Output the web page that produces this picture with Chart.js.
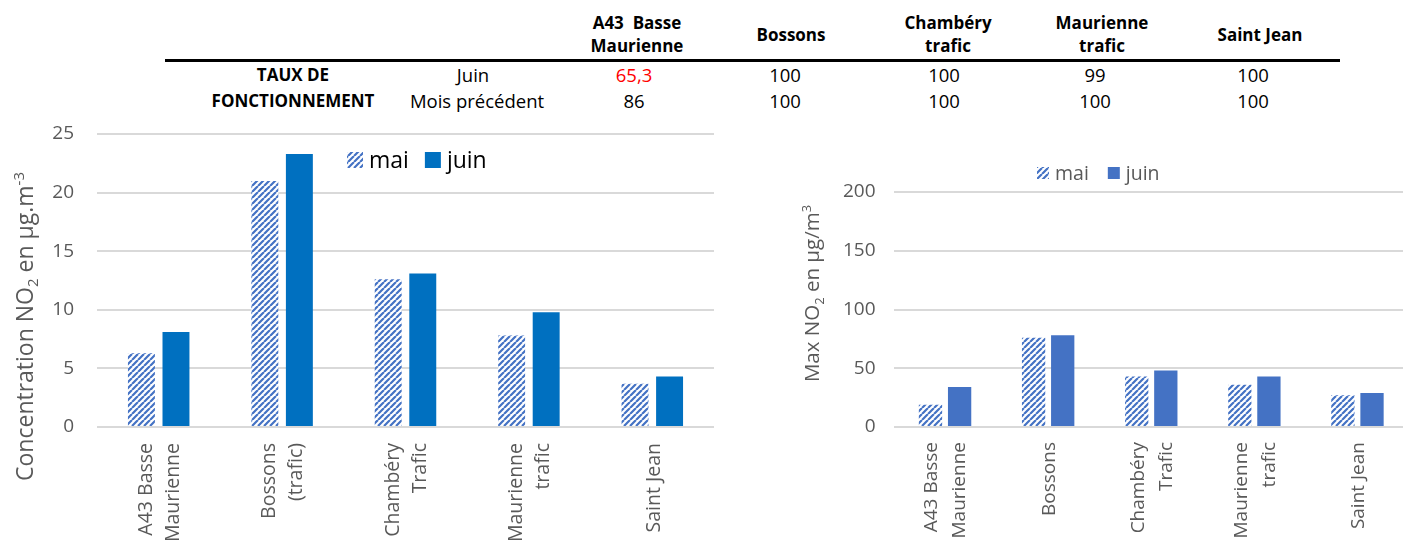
<!DOCTYPE html>
<html>
<head>
<meta charset="utf-8">
<script src="https://cdn.jsdelivr.net/npm/chart.js@4/dist/chart.umd.min.js"></script>
<style>
  html, body { margin: 0; padding: 0; background: #fff; }
  #page { position: relative; width: 1403px; height: 545px; overflow: hidden; font-family: "Open Sans", sans-serif; }
  .c { position: absolute; transform: translate(-50%, -50%); white-space: nowrap; text-align: center; color: #000; }
  .hd { font-weight: bold; font-size: 17px; line-height: 23px; }
  .rw { font-size: 18.5px; }
  .lb { font-weight: bold; font-size: 17px; }
  #rule { position: absolute; left: 165px; top: 59px; width: 1175px; height: 3px; background: #000; }
  canvas { position: absolute; }
</style>
</head>
<body>
<div id="page">
  <div id="rule"></div>
  <canvas id="moyChart" width="740" height="425" style="left:0px;top:120px;"></canvas>
  <canvas id="maxChart" width="660" height="425" style="left:760px;top:120px;"></canvas>
</div>
<script>
// Operating-rate table
const stationHeads = [['A43&nbsp; Basse', 'Maurienne'], ['Bossons'], ['Chambéry', 'trafic'], ['Maurienne', 'trafic'], ['Saint Jean']];
const rowTitles = ['TAUX DE', 'FONCTIONNEMENT'];
const rowPeriods = ['Juin', 'Mois précédent'];
const tauxJuin = ['65,3', '100', '100', '99', '100'];
const tauxPrecedent = ['86', '100', '100', '100', '100'];
const tauxSousSeuil = [true, false, false, false, false];

// Monthly mean NO2 (µg/m3)
const moyLabels = [['A43 Basse', 'Maurienne'], ['Bossons', '(trafic)'], ['Chambéry', 'Trafic'], ['Maurienne', 'trafic'], 'Saint Jean'];
const moyMai = [6.3, 21.0, 12.6, 7.8, 3.7];
const moyJuin = [8.1, 23.3, 13.1, 9.8, 4.3];

// Maximum NO2 (µg/m3)
const maxLabels = [['A43 Basse', 'Maurienne'], 'Bossons', ['Chambéry', 'Trafic'], ['Maurienne', 'trafic'], 'Saint Jean'];
const maxMai = [19, 76, 43, 36, 27];
const maxJuin = [34, 78, 48, 43, 29];

const seriesNames = ['mai', 'juin'];

// ---- table ----
const page = document.getElementById('page');
const headX = [637, 791, 948, 1102, 1260];
const valX = [634, 785, 944, 1095, 1253];
function addText(cls, html, x, y, color) {
  const d = document.createElement('div');
  d.className = 'c ' + cls;
  d.innerHTML = html;
  d.style.left = x + 'px';
  d.style.top = y + 'px';
  if (color) d.style.color = color;
  page.appendChild(d);
}
stationHeads.forEach((lines, i) => addText('hd', lines.join('<br>'), headX[i], 33.5));
addText('lb', rowTitles[0], 293, 74);
addText('lb', rowTitles[1], 293, 100);
addText('rw', rowPeriods[0], 473, 74);
addText('rw', rowPeriods[1], 477, 100);
tauxJuin.forEach((v, i) => addText('rw', v, valX[i], 74, tauxSousSeuil[i] ? '#ff0000' : '#000'));
tauxPrecedent.forEach((v, i) => addText('rw', v, valX[i], 100));

// ---- charts ----
function hatch(color) {
  const s = 6;
  const c = document.createElement('canvas');
  c.width = s; c.height = s;
  const g = c.getContext('2d');
  g.fillStyle = '#ffffff';
  g.fillRect(0, 0, s, s);
  g.strokeStyle = color;
  g.lineWidth = 2.2;
  g.beginPath();
  for (const k of [-s, 0, s]) { g.moveTo(k, s); g.lineTo(k + s, 0); }
  g.stroke();
  return g.createPattern(c, 'repeat');
}

// legend drawn inside / above the plot with hatched swatches
const boxLegend = {
  id: 'boxLegend',
  afterDraw(chart, args, o) {
    const ctx = chart.ctx;
    const a = chart.chartArea;
    ctx.save();
    ctx.font = o.size + 'px "Open Sans"';
    ctx.textBaseline = 'middle';
    ctx.textAlign = 'left';
    let x = a.left + o.dx;
    const y = a.top + o.dy;
    chart.data.datasets.forEach((ds) => {
      ctx.fillStyle = ds.backgroundColor;
      ctx.fillRect(x, y - o.box / 2, o.box, o.box);
      x += o.box + o.gap;
      ctx.fillStyle = o.color;
      ctx.fillText(ds.label, x, y + 1);
      x += ctx.measureText(ds.label).width + o.spacing;
    });
    ctx.restore();
  }
};

// rotated axis title with sub/superscripts
const richTitle = {
  id: 'richTitle',
  afterDraw(chart, args, o) {
    const ctx = chart.ctx;
    ctx.save();
    const small = Math.round(o.size * 0.65);
    const w = (seg) => {
      ctx.font = (seg.sub || seg.sup ? small : o.size) + 'px "Open Sans"';
      return ctx.measureText(seg.t).width;
    };
    const total = o.parts.reduce((s, p) => s + w(p), 0);
    ctx.translate(o.x, o.y);
    ctx.rotate(-Math.PI / 2);
    ctx.fillStyle = o.color;
    ctx.textBaseline = 'alphabetic';
    let x = -total / 2;
    const base = o.size * 0.36;
    o.parts.forEach((p) => {
      const ww = w(p);
      let dy = 0;
      if (p.sub) dy = o.size * 0.22;
      if (p.sup) dy = -o.size * 0.42;
      ctx.fillText(p.t, x, base + dy);
      x += ww;
    });
    ctx.restore();
  }
};

Chart.register(boxLegend, richTitle);

function barChart(id, cfg) {
  const isMulti = (i) => Array.isArray(cfg.labels[i]);
  return new Chart(document.getElementById(id), {
    type: 'bar',
    data: {
      labels: cfg.labels,
      datasets: [
        { label: seriesNames[0], data: cfg.mai, backgroundColor: cfg.maiFill, categoryPercentage: cfg.cat, barPercentage: cfg.bar },
        { label: seriesNames[1], data: cfg.juin, backgroundColor: cfg.juinFill, categoryPercentage: cfg.cat, barPercentage: cfg.bar }
      ]
    },
    options: {
      responsive: false,
      animation: false,
      devicePixelRatio: 1,
      layout: { padding: cfg.padding },
      plugins: {
        legend: { display: false },
        tooltip: { enabled: false },
        boxLegend: cfg.legend,
        richTitle: cfg.title
      },
      scales: {
        x: {
          grid: { display: false },
          border: { display: false },
          ticks: {
            autoSkip: false, maxRotation: 90, minRotation: 90,
            color: '#595959', padding: cfg.xPad, labelOffset: cfg.xShift,
            // single-line names sit just right of the tick, two-line names straddle it
            callback(v, i) { return isMulti(i) ? cfg.labels[i] : ['', cfg.labels[i]]; },
            font: (ctx) => ({
              family: 'Open Sans', size: cfg.xFont,
              lineHeight: (isMulti(ctx.index) ? cfg.xLine : cfg.xSingle) + 'px'
            })
          },
          afterFit(s) { s.height = cfg.xHeight; }
        },
        y: {
          min: 0, max: cfg.max,
          grid: { color: '#d9d9d9', lineWidth: 2, drawTicks: true, tickLength: cfg.yPad, tickColor: 'rgba(0,0,0,0)' },
          border: { display: false },
          ticks: {
            stepSize: cfg.step, color: '#595959', padding: 0,
            font: { family: 'Open Sans', size: 19 }
          },
          afterFit(s) { s.width = cfg.yWidth; }
        }
      }
    }
  });
}

barChart('moyChart', {
  labels: moyLabels, mai: moyMai, juin: moyJuin,
  maiFill: hatch('#4472c4'), juinFill: '#0070c0',
  cat: 0.56, bar: 0.78, max: 25, step: 5,
  padding: { left: 0, right: 26, top: 14, bottom: 0 },
  yWidth: 97, yPad: 23, xHeight: 118, xPad: 8, xFont: 19.5,
  xShift: -12.5, xLine: 27, xSingle: 14.5,
  legend: { dx: 250, dy: 26, box: 16, gap: 6, spacing: 16, size: 23, color: '#000000' },
  title: {
    x: 25, y: 206.5, size: 23, color: '#595959',
    parts: [{ t: 'Concentration NO' }, { t: '2', sub: true }, { t: ' en µg.m' }, { t: '-3', sup: true }]
  }
});

barChart('maxChart', {
  labels: maxLabels, mai: maxMai, juin: maxJuin,
  maiFill: hatch('#4472c4'), juinFill: '#4472c4',
  cat: 0.565, bar: 0.8, max: 200, step: 50,
  padding: { left: 0, right: 11, top: 72, bottom: 0 },
  yWidth: 133.5, yPad: 18, xHeight: 118, xPad: 7, xFont: 19,
  xShift: -13, xLine: 28, xSingle: 14.5,
  legend: { dx: 143.5, dy: -19, box: 12, gap: 6, spacing: 19, size: 19.5, color: '#595959' },
  title: {
    x: 52, y: 173.5, size: 20.5, color: '#595959',
    parts: [{ t: 'Max NO' }, { t: '2', sub: true }, { t: ' en µg/m' }, { t: '3', sup: true }]
  }
});
</script>
</body>
</html>
